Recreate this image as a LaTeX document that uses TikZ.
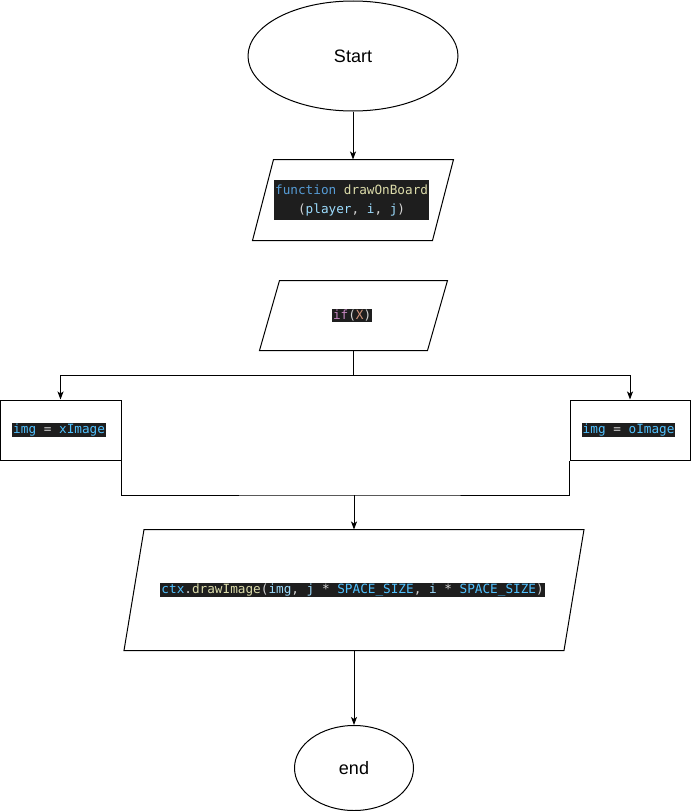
\documentclass[tikz,border=0pt]{standalone}
\usepackage{fontspec}
\setmainfont{Liberation Sans}
\newfontfamily\codefont{DejaVu Sans Mono}
\usetikzlibrary{shapes.geometric,arrows.meta}

\definecolor{codebg}{HTML}{1E1E1E}
\definecolor{ckey}{HTML}{569CD6}
\definecolor{cfun}{HTML}{DCDCAA}
\definecolor{cvar}{HTML}{9CDCFE}
\definecolor{cconst}{HTML}{4FC1FF}
\definecolor{cpunct}{HTML}{D4D4D4}
\definecolor{cctrl}{HTML}{C586C0}
\definecolor{cstr}{HTML}{CE9178}

% code snippet on a dark background
\newcommand{\codebox}[1]{{\setlength{\fboxsep}{1pt}\colorbox{codebg}{\codefont\fontsize{12.7}{19}\selectfont #1}}}
% slanted outline round a named node: node name, offset
\newcommand{\ioframe}[2]{\draw ([xshift=#2pt]#1.north west) -- (#1.north east) -- ([xshift=-#2pt]#1.south east) -- (#1.south west) -- cycle;}

\begin{document}
\begin{tikzpicture}[x=1pt, y=-1pt, line width=1pt,
		terminal/.style={shape=ellipse, draw, font=\fontsize{18}{20}\selectfont},
		iobox/.style={shape=rectangle, align=center},
		procbox/.style={shape=rectangle, draw, minimum height=60pt, align=center},
		->/.style={-{Stealth[length=8pt, width=6pt, inset=2pt]}}]
	\useasboundingbox (0,0) rectangle (691,811);

	\node (z1)[terminal, minimum width=210pt, minimum height=110pt] 
	at (353,56){Start};

	\node (z2)[iobox, minimum width=200pt, minimum height=80pt] 
	at (353,200){
		\codebox{\begin{tabular}{@{}c@{}}
			\textcolor{ckey}{function} \textcolor{cfun}{drawOnBoard}\\
			\textcolor{cpunct}{(}\textcolor{cvar}{player}\textcolor{cpunct}{, }\textcolor{cvar}{i}\textcolor{cpunct}{, }\textcolor{cvar}{j}\textcolor{cpunct}{)}
		\end{tabular}}
	};
	\ioframe{z2}{21}

	\node (z3)[iobox, minimum width=187pt, minimum height=69pt] 
	at (353.5,315.5){
		\codebox{\textcolor{cctrl}{if}\textcolor{cpunct}{(}\textcolor{cstr}{X}\textcolor{cpunct}{)}}
	};
	\ioframe{z3}{20}

	\node (z4)[procbox, minimum width=121pt] 
	at (60.5,430){
		\codebox{\textcolor{cconst}{img} \textcolor{cpunct}{=} \textcolor{cconst}{xImage}}
	};

	\node (z5)[procbox, minimum width=120pt] 
	at (630,430){
		\codebox{\textcolor{cconst}{img} \textcolor{cpunct}{=} \textcolor{cconst}{oImage}}
	};

	\node (z6)[iobox, minimum width=459pt, minimum height=120pt] 
	at (354,590){
		\codebox{\textcolor{cconst}{ctx}\textcolor{cpunct}{.}\textcolor{cfun}{drawImage}\textcolor{cpunct}{(}\textcolor{cvar}{img}\textcolor{cpunct}{, }\textcolor{cvar}{j} \textcolor{cpunct}{*} \textcolor{cconst}{SPACE\_SIZE}\textcolor{cpunct}{, }\textcolor{cvar}{i} \textcolor{cpunct}{*} \textcolor{cconst}{SPACE\_SIZE}\textcolor{cpunct}{)}}
	};
	\ioframe{z6}{20}

	\node (z7)[terminal, minimum width=119pt, minimum height=85pt] 
	at (354,768){end};

	\coordinate (m) at (354,495);

	\path[->] (z1) edge (z2);
	\draw[->] (z3.south) -- ++(0,25) -| (z4.north);
	\draw[->] (z3.south) -- ++(0,25) -| (z5.north);
	\draw (z4.south east) |- (m) -| (z5.south west);
	\draw[->] (m) -- (z6.north);
	\path[->] (z6) edge (z7);
\end{tikzpicture}
\end{document}
